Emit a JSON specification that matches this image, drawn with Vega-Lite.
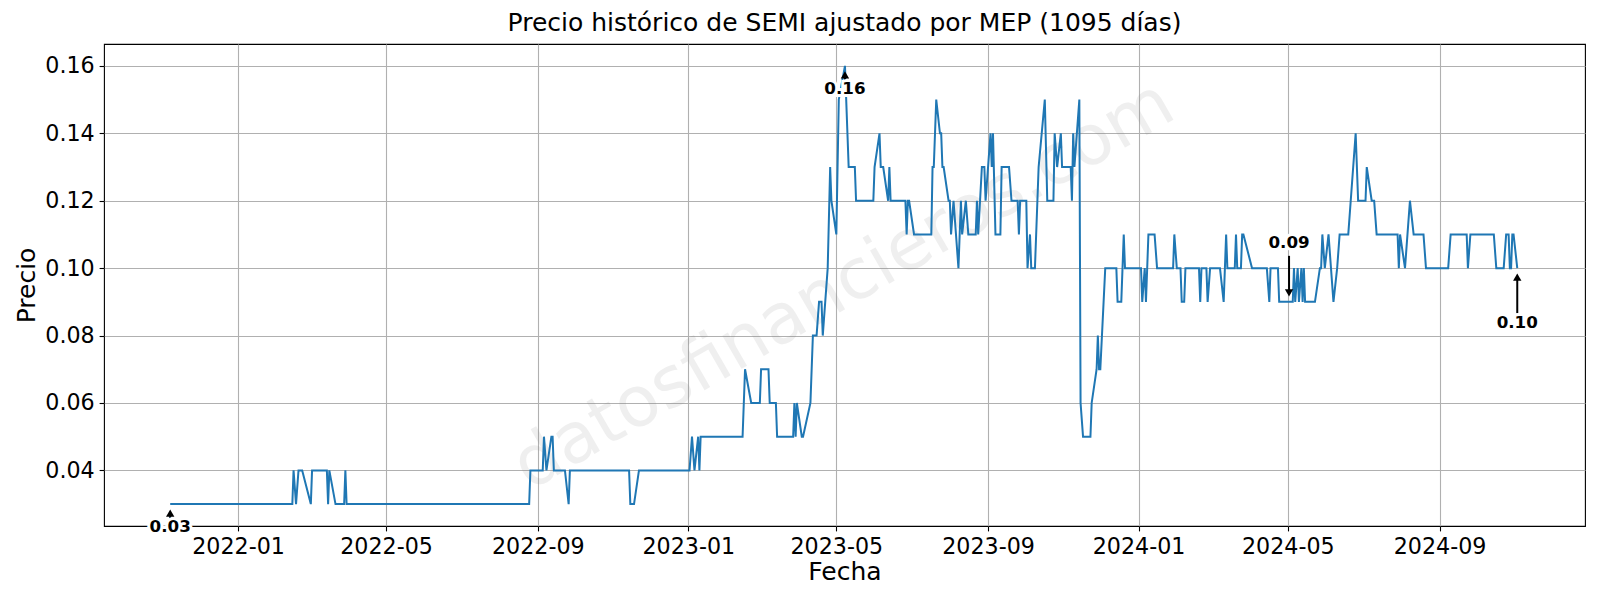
{
  "$schema": "https://vega.github.io/schema/vega-lite/v6.json",
  "autosize": {"type": "none"},
  "padding": {"left": 104, "top": 44, "right": 15, "bottom": 74},
  "width": 1481,
  "height": 482,
  "background": "white",
  "config": {
    "font": "DejaVu Sans",
    "view": {"stroke": "black", "strokeWidth": 1.1},
    "axis": {
      "labelFont": "DejaVu Sans", "labelFontSize": 22.2, "labelColor": "black",
      "titleFont": "DejaVu Sans", "titleFontSize": 25, "titleFontWeight": "normal", "titleColor": "black",
      "tickColor": "black", "tickSize": 4.9, "tickWidth": 1.1, "labelPadding": 4.9,
      "domain": false, "gridColor": "#b0b0b0", "gridWidth": 1.1, "gridOpacity": 1
    }
  },
  "title": {"text": "Precio histórico de SEMI ajustado por MEP (1095 días)", "font": "DejaVu Sans", "fontSize": 25, "fontWeight": "normal", "color": "black", "anchor": "middle", "offset": 8},
  "datasets": {
    "prices": [
      {"date": "2021-11-07", "price": 0.03}, {"date": "2022-02-14", "price": 0.03}, {"date": "2022-02-15", "price": 0.04}, {"date": "2022-02-17", "price": 0.03},
      {"date": "2022-02-19", "price": 0.04}, {"date": "2022-02-22", "price": 0.04}, {"date": "2022-03-01", "price": 0.03}, {"date": "2022-03-02", "price": 0.04},
      {"date": "2022-03-14", "price": 0.04}, {"date": "2022-03-15", "price": 0.03}, {"date": "2022-03-16", "price": 0.04}, {"date": "2022-03-21", "price": 0.03},
      {"date": "2022-03-28", "price": 0.03}, {"date": "2022-03-29", "price": 0.04}, {"date": "2022-03-30", "price": 0.03}, {"date": "2022-08-25", "price": 0.03},
      {"date": "2022-08-26", "price": 0.04}, {"date": "2022-09-05", "price": 0.04}, {"date": "2022-09-06", "price": 0.05}, {"date": "2022-09-08", "price": 0.04},
      {"date": "2022-09-12", "price": 0.05}, {"date": "2022-09-13", "price": 0.05}, {"date": "2022-09-14", "price": 0.04}, {"date": "2022-09-23", "price": 0.04},
      {"date": "2022-09-26", "price": 0.03}, {"date": "2022-09-27", "price": 0.04}, {"date": "2022-11-14", "price": 0.04}, {"date": "2022-11-15", "price": 0.03},
      {"date": "2022-11-18", "price": 0.03}, {"date": "2022-11-22", "price": 0.04}, {"date": "2023-01-02", "price": 0.04}, {"date": "2023-01-04", "price": 0.05},
      {"date": "2023-01-06", "price": 0.04}, {"date": "2023-01-09", "price": 0.05}, {"date": "2023-01-10", "price": 0.04}, {"date": "2023-01-11", "price": 0.05},
      {"date": "2023-02-14", "price": 0.05}, {"date": "2023-02-16", "price": 0.07}, {"date": "2023-02-21", "price": 0.06}, {"date": "2023-02-28", "price": 0.06},
      {"date": "2023-03-01", "price": 0.07}, {"date": "2023-03-07", "price": 0.07}, {"date": "2023-03-08", "price": 0.06}, {"date": "2023-03-13", "price": 0.06},
      {"date": "2023-03-14", "price": 0.05}, {"date": "2023-03-27", "price": 0.05}, {"date": "2023-03-28", "price": 0.06}, {"date": "2023-03-29", "price": 0.05},
      {"date": "2023-03-30", "price": 0.06}, {"date": "2023-04-03", "price": 0.05}, {"date": "2023-04-04", "price": 0.05}, {"date": "2023-04-10", "price": 0.06},
      {"date": "2023-04-12", "price": 0.08}, {"date": "2023-04-15", "price": 0.08}, {"date": "2023-04-17", "price": 0.09}, {"date": "2023-04-19", "price": 0.09},
      {"date": "2023-04-20", "price": 0.08}, {"date": "2023-04-24", "price": 0.10}, {"date": "2023-04-26", "price": 0.13}, {"date": "2023-04-27", "price": 0.12},
      {"date": "2023-05-01", "price": 0.11}, {"date": "2023-05-03", "price": 0.15}, {"date": "2023-05-08", "price": 0.16}, {"date": "2023-05-09", "price": 0.15},
      {"date": "2023-05-10", "price": 0.14}, {"date": "2023-05-11", "price": 0.13}, {"date": "2023-05-16", "price": 0.13}, {"date": "2023-05-17", "price": 0.12},
      {"date": "2023-05-31", "price": 0.12}, {"date": "2023-06-01", "price": 0.13}, {"date": "2023-06-05", "price": 0.14}, {"date": "2023-06-06", "price": 0.13},
      {"date": "2023-06-08", "price": 0.13}, {"date": "2023-06-12", "price": 0.12}, {"date": "2023-06-13", "price": 0.13}, {"date": "2023-06-14", "price": 0.12},
      {"date": "2023-06-26", "price": 0.12}, {"date": "2023-06-27", "price": 0.11}, {"date": "2023-06-28", "price": 0.12}, {"date": "2023-06-29", "price": 0.12},
      {"date": "2023-07-03", "price": 0.11}, {"date": "2023-07-17", "price": 0.11}, {"date": "2023-07-18", "price": 0.13}, {"date": "2023-07-19", "price": 0.13},
      {"date": "2023-07-21", "price": 0.15}, {"date": "2023-07-24", "price": 0.14}, {"date": "2023-07-25", "price": 0.14}, {"date": "2023-07-26", "price": 0.13},
      {"date": "2023-07-27", "price": 0.13}, {"date": "2023-07-31", "price": 0.12}, {"date": "2023-08-01", "price": 0.12}, {"date": "2023-08-02", "price": 0.11},
      {"date": "2023-08-04", "price": 0.12}, {"date": "2023-08-08", "price": 0.10}, {"date": "2023-08-10", "price": 0.12}, {"date": "2023-08-11", "price": 0.11},
      {"date": "2023-08-14", "price": 0.12}, {"date": "2023-08-16", "price": 0.11}, {"date": "2023-08-22", "price": 0.11}, {"date": "2023-08-23", "price": 0.12},
      {"date": "2023-08-24", "price": 0.11}, {"date": "2023-08-27", "price": 0.13}, {"date": "2023-08-29", "price": 0.13}, {"date": "2023-08-30", "price": 0.12},
      {"date": "2023-09-03", "price": 0.14}, {"date": "2023-09-04", "price": 0.13}, {"date": "2023-09-05", "price": 0.14}, {"date": "2023-09-07", "price": 0.11},
      {"date": "2023-09-11", "price": 0.11}, {"date": "2023-09-12", "price": 0.13}, {"date": "2023-09-18", "price": 0.13}, {"date": "2023-09-20", "price": 0.12},
      {"date": "2023-09-25", "price": 0.12}, {"date": "2023-09-26", "price": 0.11}, {"date": "2023-09-27", "price": 0.12}, {"date": "2023-10-02", "price": 0.12},
      {"date": "2023-10-03", "price": 0.10}, {"date": "2023-10-05", "price": 0.11}, {"date": "2023-10-06", "price": 0.10}, {"date": "2023-10-09", "price": 0.10},
      {"date": "2023-10-12", "price": 0.13}, {"date": "2023-10-17", "price": 0.15}, {"date": "2023-10-19", "price": 0.12}, {"date": "2023-10-24", "price": 0.12},
      {"date": "2023-10-25", "price": 0.14}, {"date": "2023-10-27", "price": 0.13}, {"date": "2023-10-30", "price": 0.14}, {"date": "2023-10-31", "price": 0.13},
      {"date": "2023-11-07", "price": 0.13}, {"date": "2023-11-08", "price": 0.12}, {"date": "2023-11-09", "price": 0.14}, {"date": "2023-11-10", "price": 0.13},
      {"date": "2023-11-14", "price": 0.15}, {"date": "2023-11-15", "price": 0.06}, {"date": "2023-11-17", "price": 0.05}, {"date": "2023-11-23", "price": 0.05},
      {"date": "2023-11-24", "price": 0.06}, {"date": "2023-11-28", "price": 0.07}, {"date": "2023-11-29", "price": 0.08}, {"date": "2023-11-30", "price": 0.07},
      {"date": "2023-12-01", "price": 0.07}, {"date": "2023-12-05", "price": 0.10}, {"date": "2023-12-14", "price": 0.10}, {"date": "2023-12-15", "price": 0.09},
      {"date": "2023-12-18", "price": 0.09}, {"date": "2023-12-19", "price": 0.10}, {"date": "2023-12-20", "price": 0.11}, {"date": "2023-12-21", "price": 0.10},
      {"date": "2024-01-03", "price": 0.10}, {"date": "2024-01-04", "price": 0.09}, {"date": "2024-01-06", "price": 0.10}, {"date": "2024-01-07", "price": 0.09},
      {"date": "2024-01-09", "price": 0.11}, {"date": "2024-01-14", "price": 0.11}, {"date": "2024-01-16", "price": 0.10}, {"date": "2024-01-29", "price": 0.10},
      {"date": "2024-01-30", "price": 0.11}, {"date": "2024-02-01", "price": 0.10}, {"date": "2024-02-04", "price": 0.10}, {"date": "2024-02-05", "price": 0.09},
      {"date": "2024-02-07", "price": 0.09}, {"date": "2024-02-08", "price": 0.10}, {"date": "2024-02-19", "price": 0.10}, {"date": "2024-02-20", "price": 0.09},
      {"date": "2024-02-21", "price": 0.10}, {"date": "2024-02-25", "price": 0.10}, {"date": "2024-02-26", "price": 0.09}, {"date": "2024-02-28", "price": 0.10},
      {"date": "2024-03-07", "price": 0.10}, {"date": "2024-03-10", "price": 0.09}, {"date": "2024-03-12", "price": 0.11}, {"date": "2024-03-13", "price": 0.10},
      {"date": "2024-03-19", "price": 0.10}, {"date": "2024-03-20", "price": 0.11}, {"date": "2024-03-21", "price": 0.10}, {"date": "2024-03-24", "price": 0.10},
      {"date": "2024-03-25", "price": 0.11}, {"date": "2024-03-26", "price": 0.11}, {"date": "2024-04-02", "price": 0.10}, {"date": "2024-04-14", "price": 0.10},
      {"date": "2024-04-16", "price": 0.09}, {"date": "2024-04-17", "price": 0.10}, {"date": "2024-04-23", "price": 0.10}, {"date": "2024-04-24", "price": 0.09},
      {"date": "2024-05-05", "price": 0.09}, {"date": "2024-05-06", "price": 0.10}, {"date": "2024-05-07", "price": 0.09}, {"date": "2024-05-09", "price": 0.10},
      {"date": "2024-05-10", "price": 0.09}, {"date": "2024-05-12", "price": 0.10}, {"date": "2024-05-13", "price": 0.09}, {"date": "2024-05-14", "price": 0.10},
      {"date": "2024-05-15", "price": 0.09}, {"date": "2024-05-23", "price": 0.09}, {"date": "2024-05-27", "price": 0.10}, {"date": "2024-05-28", "price": 0.10},
      {"date": "2024-05-29", "price": 0.11}, {"date": "2024-05-31", "price": 0.10}, {"date": "2024-06-03", "price": 0.11}, {"date": "2024-06-07", "price": 0.09},
      {"date": "2024-06-10", "price": 0.10}, {"date": "2024-06-12", "price": 0.11}, {"date": "2024-06-19", "price": 0.11}, {"date": "2024-06-21", "price": 0.12},
      {"date": "2024-06-23", "price": 0.13}, {"date": "2024-06-25", "price": 0.14}, {"date": "2024-06-27", "price": 0.12}, {"date": "2024-07-03", "price": 0.12},
      {"date": "2024-07-04", "price": 0.13}, {"date": "2024-07-08", "price": 0.12}, {"date": "2024-07-10", "price": 0.12}, {"date": "2024-07-12", "price": 0.11},
      {"date": "2024-07-29", "price": 0.11}, {"date": "2024-07-30", "price": 0.10}, {"date": "2024-07-31", "price": 0.11}, {"date": "2024-08-04", "price": 0.10},
      {"date": "2024-08-06", "price": 0.11}, {"date": "2024-08-08", "price": 0.12}, {"date": "2024-08-11", "price": 0.11}, {"date": "2024-08-19", "price": 0.11},
      {"date": "2024-08-21", "price": 0.10}, {"date": "2024-09-08", "price": 0.10}, {"date": "2024-09-10", "price": 0.11}, {"date": "2024-09-23", "price": 0.11},
      {"date": "2024-09-24", "price": 0.10}, {"date": "2024-09-26", "price": 0.11}, {"date": "2024-10-15", "price": 0.11}, {"date": "2024-10-17", "price": 0.10},
      {"date": "2024-10-23", "price": 0.10}, {"date": "2024-10-25", "price": 0.11}, {"date": "2024-10-27", "price": 0.11}, {"date": "2024-10-28", "price": 0.10},
      {"date": "2024-10-29", "price": 0.10}, {"date": "2024-10-30", "price": 0.11}, {"date": "2024-10-31", "price": 0.11}, {"date": "2024-11-03", "price": 0.10}
    ],
    "notes": [
      {"date": "2021-11-07", "price": 0.03, "label": "0.03"},
      {"date": "2023-05-08", "price": 0.16, "label": "0.16"},
      {"date": "2024-05-02", "price": 0.09, "label": "0.09"},
      {"date": "2024-11-03", "price": 0.10, "label": "0.10"}
    ],
    "wm": [{"date": "2023-05-07", "price": 0.0948, "label": "datosfinancieros.com"}]
  },
  "encoding": {
    "x": {
      "field": "date", "type": "temporal", "title": "Fecha",
      "scale": {"type": "utc", "domain": [{"year": 2021, "month": 9, "date": 14, "hours": 8, "utc": true}, {"year": 2024, "month": 12, "date": 27, "hours": 22, "utc": true}]},
      "axis": {"format": "%Y-%m", "titlePadding": 1,
        "values": [{"year": 2022, "month": 1, "date": 1, "utc": true}, {"year": 2022, "month": 5, "date": 1, "utc": true}, {"year": 2022, "month": 9, "date": 1, "utc": true},
                   {"year": 2023, "month": 1, "date": 1, "utc": true}, {"year": 2023, "month": 5, "date": 1, "utc": true}, {"year": 2023, "month": 9, "date": 1, "utc": true},
                   {"year": 2024, "month": 1, "date": 1, "utc": true}, {"year": 2024, "month": 5, "date": 1, "utc": true}, {"year": 2024, "month": 9, "date": 1, "utc": true}]}
    },
    "y": {
      "field": "price", "type": "quantitative", "title": "Precio",
      "scale": {"domain": [0.0235, 0.1665], "nice": false, "zero": false},
      "axis": {"values": [0.04, 0.06, 0.08, 0.10, 0.12, 0.14, 0.16], "format": ".2f", "titlePadding": 5}
    }
  },
  "layer": [
    {
      "data": {"name": "wm"},
      "mark": {"type": "text", "fontSize": 70, "angle": -30, "color": "gray", "opacity": 0.12, "align": "center", "baseline": "middle", "font": "DejaVu Sans"},
      "encoding": {"text": {"field": "label"}}
    },
    {
      "data": {"name": "prices"},
      "mark": {"type": "line", "color": "#1f77b4", "strokeWidth": 2, "interpolate": "linear"}
    },
    {
      "data": {"name": "notes"},
      "transform": [{"filter": "datum.label == '0.03' || datum.label == '0.16'"}],
      "layer": [
        {"mark": {"type": "rule", "color": "black", "strokeWidth": 2, "yOffset": 10, "y2Offset": 15}, "encoding": {"y2": {"field": "price"}}},
        {"mark": {"type": "point", "shape": "triangle-up", "filled": true, "color": "black", "opacity": 1, "size": 70, "yOffset": 9}},
        {"mark": {"type": "text", "fontSize": 16.7, "fontWeight": "bold", "stroke": "white", "strokeWidth": 6, "color": "white", "baseline": "middle", "align": "center", "yOffset": 23}, "encoding": {"text": {"field": "label"}}},
        {"mark": {"type": "text", "fontSize": 16.7, "fontWeight": "bold", "color": "black", "baseline": "middle", "align": "center", "yOffset": 23}, "encoding": {"text": {"field": "label"}}}
      ]
    },
    {
      "data": {"name": "notes"},
      "transform": [{"filter": "datum.label == '0.10'"}],
      "layer": [
        {"mark": {"type": "rule", "color": "black", "strokeWidth": 2, "yOffset": 10, "y2Offset": 45}, "encoding": {"y2": {"field": "price"}}},
        {"mark": {"type": "point", "shape": "triangle-up", "filled": true, "color": "black", "opacity": 1, "size": 70, "yOffset": 9}},
        {"mark": {"type": "text", "fontSize": 16.7, "fontWeight": "bold", "stroke": "white", "strokeWidth": 6, "color": "white", "baseline": "middle", "align": "center", "yOffset": 55}, "encoding": {"text": {"field": "label"}}},
        {"mark": {"type": "text", "fontSize": 16.7, "fontWeight": "bold", "color": "black", "baseline": "middle", "align": "center", "yOffset": 55}, "encoding": {"text": {"field": "label"}}}
      ]
    },
    {
      "data": {"name": "notes"},
      "transform": [{"filter": "datum.label == '0.09'"}],
      "layer": [
        {"mark": {"type": "rule", "color": "black", "strokeWidth": 2, "yOffset": -10, "y2Offset": -46}, "encoding": {"y2": {"field": "price"}}},
        {"mark": {"type": "point", "shape": "triangle-down", "filled": true, "color": "black", "opacity": 1, "size": 70, "yOffset": -9}},
        {"mark": {"type": "text", "fontSize": 16.7, "fontWeight": "bold", "stroke": "white", "strokeWidth": 6, "color": "white", "baseline": "middle", "align": "center", "yOffset": -59}, "encoding": {"text": {"field": "label"}}},
        {"mark": {"type": "text", "fontSize": 16.7, "fontWeight": "bold", "color": "black", "baseline": "middle", "align": "center", "yOffset": -59}, "encoding": {"text": {"field": "label"}}}
      ]
    }
  ]
}
